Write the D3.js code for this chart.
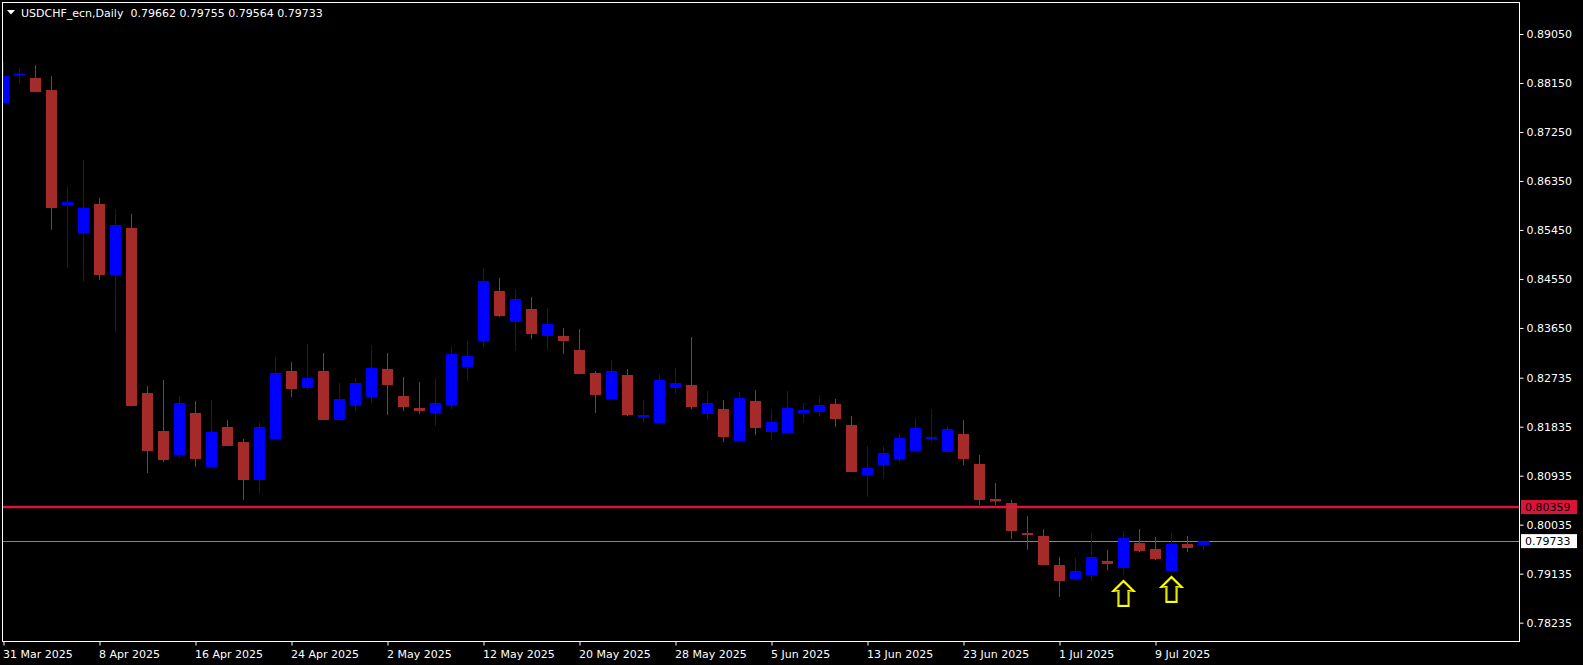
<!DOCTYPE html>
<html><head><meta charset="utf-8">
<script src="https://cdnjs.cloudflare.com/ajax/libs/d3/7.8.5/d3.min.js"></script>
<style>html,body{margin:0;padding:0;background:#000;overflow:hidden}svg{display:block}</style>
</head><body><svg id="c" width="1583" height="665"></svg>
<script>
const symbolTitle = "USDCHF_ecn,Daily";
const dates = ["2025-03-31","2025-04-01","2025-04-02","2025-04-03","2025-04-04","2025-04-07","2025-04-08","2025-04-09","2025-04-10","2025-04-11","2025-04-14","2025-04-15","2025-04-16","2025-04-17","2025-04-18","2025-04-21","2025-04-22","2025-04-23","2025-04-24","2025-04-25","2025-04-28","2025-04-29","2025-04-30","2025-05-01","2025-05-02","2025-05-05","2025-05-06","2025-05-07","2025-05-08","2025-05-09","2025-05-12","2025-05-13","2025-05-14","2025-05-15","2025-05-16","2025-05-19","2025-05-20","2025-05-21","2025-05-22","2025-05-23","2025-05-26","2025-05-27","2025-05-28","2025-05-29","2025-05-30","2025-06-02","2025-06-03","2025-06-04","2025-06-05","2025-06-06","2025-06-09","2025-06-10","2025-06-11","2025-06-12","2025-06-13","2025-06-16","2025-06-17","2025-06-18","2025-06-19","2025-06-20","2025-06-23","2025-06-24","2025-06-25","2025-06-26","2025-06-27","2025-06-30","2025-07-01","2025-07-02","2025-07-03","2025-07-04","2025-07-07","2025-07-08","2025-07-09","2025-07-10","2025-07-11","2025-07-14"];
const open  = [0.87782,0.88288,0.88242,0.88021,0.85908,0.85394,0.85927,0.84622,0.85486,0.82454,0.81756,0.81315,0.82087,0.81095,0.81830,0.81554,0.80856,0.81609,0.82859,0.82546,0.82859,0.81958,0.82221,0.82381,0.82895,0.82399,0.82179,0.82087,0.82234,0.82932,0.83410,0.84328,0.83759,0.83998,0.83502,0.83502,0.83244,0.82822,0.82344,0.82785,0.82004,0.81903,0.82546,0.82601,0.82068,0.82160,0.81572,0.82307,0.81738,0.81720,0.82087,0.82105,0.82252,0.81866,0.80948,0.81132,0.81242,0.81389,0.81609,0.81370,0.81701,0.81150,0.80507,0.80433,0.79882,0.79827,0.79294,0.79037,0.79111,0.79368,0.79239,0.79698,0.79588,0.79184,0.79680,0.79662];
const high  = [0.88530,0.88425,0.88480,0.88278,0.86257,0.86735,0.86037,0.85835,0.85743,0.82583,0.82693,0.82399,0.82307,0.82326,0.81958,0.81609,0.81922,0.83116,0.83024,0.83355,0.83189,0.82638,0.82730,0.83336,0.83189,0.82748,0.82656,0.82730,0.83318,0.83410,0.84751,0.84567,0.84365,0.84218,0.84016,0.83649,0.83630,0.82859,0.83061,0.82895,0.82326,0.82803,0.82914,0.83483,0.82491,0.82326,0.82473,0.82509,0.82160,0.82491,0.82271,0.82418,0.82344,0.82032,0.81481,0.81481,0.81720,0.81995,0.82160,0.81848,0.81958,0.81315,0.80801,0.80489,0.80195,0.79956,0.79441,0.79423,0.79882,0.79570,0.79919,0.79956,0.79809,0.79882,0.79827,0.79755];
const low   = [0.87782,0.88137,0.87984,0.85449,0.84751,0.84499,0.84530,0.83581,0.82215,0.80985,0.81187,0.81260,0.81095,0.81095,0.81481,0.80489,0.80599,0.81609,0.82381,0.82509,0.81958,0.81940,0.82124,0.82271,0.82050,0.82124,0.82068,0.81848,0.82160,0.82675,0.83300,0.83851,0.83226,0.83446,0.83244,0.83171,0.82803,0.82087,0.82326,0.82032,0.81903,0.81866,0.82436,0.82160,0.81977,0.81554,0.81572,0.81683,0.81591,0.81720,0.81903,0.82032,0.81830,0.81003,0.80544,0.80874,0.81187,0.81389,0.81554,0.81370,0.81132,0.80397,0.80397,0.79772,0.79570,0.79294,0.78706,0.79000,0.79000,0.79202,0.79111,0.79533,0.79386,0.79184,0.79533,0.79564];
const close = [0.88278,0.88324,0.87984,0.85853,0.85963,0.85853,0.84622,0.85541,0.82215,0.81389,0.81223,0.82271,0.81242,0.81738,0.81481,0.80856,0.81830,0.82822,0.82528,0.82730,0.81958,0.82344,0.82638,0.82914,0.82601,0.82197,0.82124,0.82271,0.83171,0.83134,0.84512,0.83869,0.84181,0.83538,0.83722,0.83410,0.82803,0.82418,0.82859,0.82050,0.82050,0.82693,0.82638,0.82197,0.82271,0.81646,0.82363,0.81811,0.81922,0.82179,0.82142,0.82234,0.81977,0.81003,0.81076,0.81352,0.81628,0.81811,0.81646,0.81793,0.81242,0.80489,0.80461,0.79919,0.79846,0.79294,0.79000,0.79184,0.79441,0.79313,0.79791,0.79552,0.79405,0.79680,0.79607,0.79733];
const priceTicks = [0.89050,0.88150,0.87250,0.86350,0.85450,0.84550,0.83650,0.82735,0.81835,0.80935,0.80035,0.79135,0.78235];
const dateTickLabels = ["31 Mar 2025","8 Apr 2025","16 Apr 2025","24 Apr 2025","2 May 2025","12 May 2025","20 May 2025","28 May 2025","5 Jun 2025","13 Jun 2025","23 Jun 2025","1 Jul 2025","9 Jul 2025"];
const dateTickDates = ["2025-03-31","2025-04-08","2025-04-16","2025-04-24","2025-05-02","2025-05-12","2025-05-20","2025-05-28","2025-06-05","2025-06-13","2025-06-23","2025-07-01","2025-07-09"];
const levelLine = 0.80359;
const bidLine = 0.79733;
const arrowDates = ["2025-07-07","2025-07-10"];

(function () {
const svg = d3.select("#c");
const W = 1583, H = 665;
const PL = 2, PR = 1519, PT = 2, PB = 641;
const font = "'DejaVu Sans', sans-serif";

const x = d3.scaleLinear().domain([0, dates.length - 1]).range([3.5, 3.5 + 16 * (dates.length - 1)]);
const y = d3.scaleLinear().domain([0.77898, 0.89638]).range([PB, PT]);

svg.append("rect").attr("width", W).attr("height", H).attr("fill", "#000");

svg.append("clipPath").attr("id", "plot").append("rect")
  .attr("x", PL + 1).attr("y", PT + 1).attr("width", PR - PL - 1).attr("height", PB - PT - 1);

const g = svg.append("g").attr("clip-path", "url(#plot)");

const data = dates.map((d, i) => ({d, i, o: open[i], h: high[i], l: low[i], c: close[i]}));
const bull = "#0000ff", bear = "#a52a2a";
const col = d => d.c >= d.o ? bull : bear;

g.append("line").attr("x1", PL).attr("x2", PR)
  .attr("y1", Math.round(y(bidLine)) + 0.5).attr("y2", Math.round(y(bidLine)) + 0.5)
  .attr("stroke", "#7a8692").attr("stroke-width", 1);

g.selectAll("line.wick").data(data).enter().append("line").attr("class", "wick")
  .attr("x1", d => x(d.i)).attr("x2", d => x(d.i))
  .attr("y1", d => y(d.h)).attr("y2", d => y(d.l))
  .attr("stroke", col).attr("stroke-width", 1);

g.selectAll("rect.body").data(data).enter().append("rect").attr("class", "body")
  .attr("x", d => x(d.i) - 5.5).attr("width", 11)
  .attr("y", d => y(Math.max(d.o, d.c)))
  .attr("height", d => Math.max(2, Math.abs(y(d.o) - y(d.c))))
  .attr("fill", col);

g.append("line").attr("x1", PL).attr("x2", PR)
  .attr("y1", y(levelLine)).attr("y2", y(levelLine))
  .attr("stroke", "#dc143c").attr("stroke-width", 2.5);

arrowDates.forEach(ad => {
  const d = data[dates.indexOf(ad)];
  const cx = x(d.i), t = y(d.l) + 6;
  const p = `M${cx},${t} L${cx + 10},${t + 10} L${cx + 5},${t + 10} L${cx + 5},${t + 25} L${cx - 5},${t + 25} L${cx - 5},${t + 10} L${cx - 10},${t + 10} Z`;
  g.append("path").attr("d", p).attr("fill", "none").attr("stroke", "#ffff00").attr("stroke-width", 2.2).attr("stroke-linejoin", "miter");
  g.append("path").attr("d", p).attr("fill", "none").attr("stroke", "#3c5a00").attr("stroke-width", 0.6)
    .attr("transform", `translate(${cx},${t + 14}) scale(0.86) translate(${-cx},${-(t + 14)})`);
});

svg.append("rect").attr("x", PL + 0.5).attr("y", PT + 0.5)
  .attr("width", PR - PL).attr("height", PB - PT)
  .attr("fill", "none").attr("stroke", "#fff").attr("stroke-width", 1);

const yAxis = d3.axisRight(y).tickValues(priceTicks).tickFormat(d3.format(".5f")).tickSize(4).tickPadding(3);
const ya = svg.append("g").attr("transform", `translate(${PR + 0.5},0)`).call(yAxis);
ya.select(".domain").remove();
ya.selectAll("line").attr("stroke", "#fff");
ya.selectAll("text").attr("fill", "#fff").attr("font-family", font).attr("font-size", 11);

const xAxis = d3.axisBottom(x).tickValues(dateTickDates.map(d => dates.indexOf(d)))
  .tickFormat((v, k) => dateTickLabels[k]).tickSize(4).tickPadding(5);
const xa = svg.append("g").attr("transform", `translate(0,${PB + 0.5})`).call(xAxis);
xa.select(".domain").remove();
xa.selectAll("line").attr("stroke", "#fff");
xa.selectAll("text").attr("fill", "#fff").attr("font-family", font).attr("font-size", 11)
  .attr("text-anchor", "start").attr("dx", -1);

function priceLabel(v, bg, fg) {
  const yy = y(v);
  svg.append("rect").attr("x", 1521).attr("y", yy - 7).attr("width", 56).attr("height", 14).attr("fill", bg);
  svg.append("text").attr("x", 1525).attr("y", yy).attr("dy", "0.35em")
    .attr("fill", fg).attr("font-family", font).attr("font-size", 11).text(d3.format(".5f")(v));
}
priceLabel(levelLine, "#dc143c", "#000");
priceLabel(bidLine, "#fff", "#000");

svg.append("path").attr("d", "M7,10 L15,10 L11,14.5 Z").attr("fill", "#fff");
const last = data[data.length - 1];
svg.append("text").attr("x", 21).attr("y", 17).attr("fill", "#fff")
  .attr("font-family", font).attr("font-size", 11).attr("xml:space", "preserve")
  .text(`${symbolTitle}  ${d3.format(".5f")(last.o)} ${d3.format(".5f")(last.h)} ${d3.format(".5f")(last.l)} ${d3.format(".5f")(last.c)}`);
})();
</script></body></html>
